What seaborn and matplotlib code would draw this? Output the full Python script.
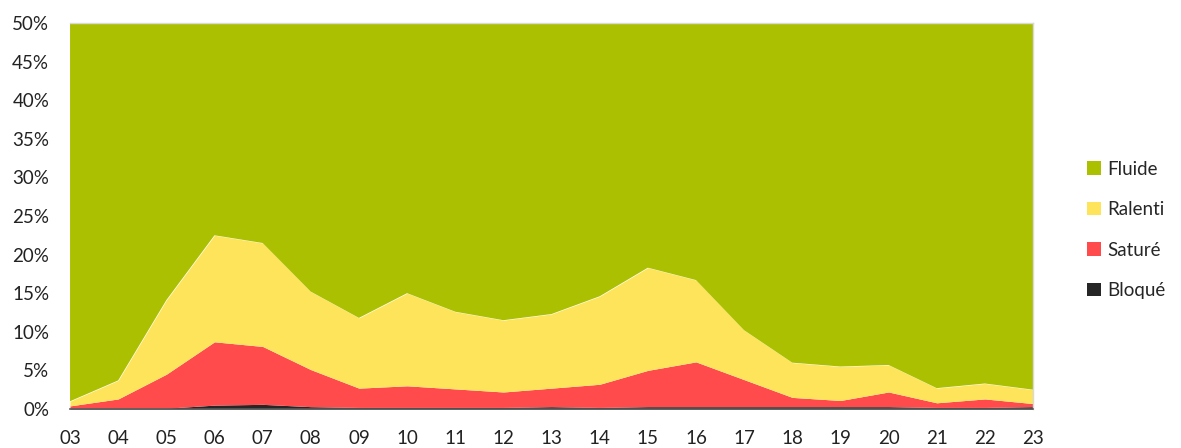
import numpy as np
import seaborn as sns
import matplotlib.pyplot as plt
from matplotlib.patches import Patch
from matplotlib.ticker import PercentFormatter

# Data (share of traffic state per hour, %)
hours = ["03", "04", "05", "06", "07", "08", "09", "10", "11", "12", "13",
         "14", "15", "16", "17", "18", "19", "20", "21", "22", "23"]
bloque = [0.1, 0.1, 0.1, 0.5, 0.6, 0.3, 0.2, 0.2, 0.2, 0.2, 0.3,
          0.2, 0.3, 0.3, 0.3, 0.3, 0.3, 0.3, 0.2, 0.2, 0.3]
sature = [0.3, 1.2, 4.4, 8.2, 7.5, 4.8, 2.5, 2.8, 2.4, 2.0, 2.4,
          3.0, 4.7, 5.8, 3.5, 1.2, 0.8, 1.9, 0.6, 1.1, 0.4]
ralenti = [0.6, 2.4, 9.6, 13.8, 13.4, 10.1, 9.1, 12.0, 10.0, 9.3, 9.6,
           11.4, 13.3, 10.6, 6.4, 4.5, 4.4, 3.5, 1.9, 2.0, 1.8]
fluide = [99.0, 96.3, 85.9, 77.5, 78.5, 84.8, 88.2, 85.0, 87.4, 88.5, 87.7,
          85.4, 81.7, 83.3, 89.8, 94.0, 94.5, 94.3, 97.3, 96.7, 97.5]

labels = ["Bloqué", "Saturé", "Ralenti", "Fluide"]
colors = ["#262626", "#FF4B4B", "#FDE45A", "#ABC000"]

sns.set_style("white")
plt.rcParams["font.family"] = ["Lato", "DejaVu Sans"]

fig = plt.figure(figsize=(11.81, 4.48), dpi=100)
ax = fig.add_axes([0.0593, 0.0871, 0.8154, 0.8616])

x = np.arange(len(hours))
ax.stackplot(x, bloque, sature, ralenti, fluide, colors=colors, linewidth=0)

ax.set_xlim(0, len(hours) - 1)
ax.set_ylim(0, 50)
ax.set_xticks(x)
ax.set_xticklabels(hours)
ax.set_yticks(np.arange(0, 51, 5))
ax.yaxis.set_major_formatter(PercentFormatter(decimals=0))
ax.tick_params(axis="x", length=0, pad=15, labelsize=13.5, labelcolor="#222222")
ax.tick_params(axis="y", length=0, pad=15, labelsize=13.5, labelcolor="#222222")

for side in ["top", "right"]:
    ax.spines[side].set_color("#D9D9D9")
    ax.spines[side].set_linewidth(1)
ax.spines["left"].set_visible(False)
ax.spines["bottom"].set_color("#595959")
ax.spines["bottom"].set_linewidth(1.2)

handles = [Patch(facecolor=c, edgecolor="none", label=l)
           for l, c in zip(labels, colors)][::-1]
fig.legend(handles=handles, loc="center left", bbox_to_anchor=(0.914, 0.487),
           frameon=False, fontsize=13.5, handlelength=0.75, handleheight=0.75,
           handletextpad=0.35, labelspacing=1.25, borderaxespad=0)

plt.savefig("out.png", dpi=100)
